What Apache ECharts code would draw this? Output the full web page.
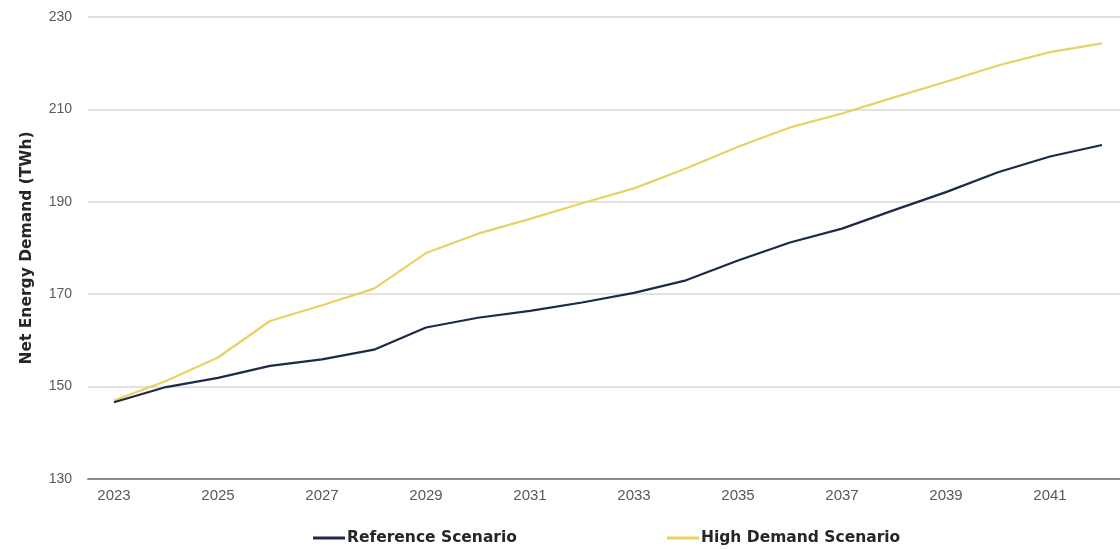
<!DOCTYPE html>
<html>
<head>
<meta charset="utf-8">
<script src="https://cdn.jsdelivr.net/npm/echarts@6/dist/echarts.min.js"></script>
<style>
html,body{margin:0;padding:0;background:#fff;}
#chart{width:1120px;height:549px;}
</style>
</head>
<body>
<div id="chart"></div>
<script>
const years = ['2023','2024','2025','2026','2027','2028','2029','2030','2031','2032','2033','2034','2035','2036','2037','2038','2039','2040','2041','2042'];
const referenceScenario = [146.6, 149.9, 151.9, 154.5, 155.9, 158.0, 162.8, 164.9, 166.4, 168.2, 170.3, 173.0, 177.3, 181.2, 184.2, 188.2, 192.1, 196.4, 199.8, 202.3];
const highDemandScenario = [147.0, 151.2, 156.3, 164.2, 167.6, 171.2, 178.9, 183.1, 186.3, 189.7, 192.9, 197.2, 201.9, 206.1, 209.1, 212.6, 216.0, 219.5, 222.4, 224.3];
const seriesNames = ['Reference Scenario', 'High Demand Scenario'];
const yAxisTitle = 'Net Energy Demand (TWh)';

const chart = echarts.init(document.getElementById('chart'), null, {renderer: 'canvas'});
chart.setOption({
  animation: false,
  backgroundColor: '#ffffff',
  textStyle: {fontFamily: 'DejaVu Sans'},
  grid: {left: 88, top: 17, width: 1040, height: 462, containLabel: false, outerBoundsMode: 'none'},
  legend: {
    bottom: 3,
    left: 313,
    padding: 0,
    itemGap: 150,
    itemWidth: 32,
    itemHeight: 3,
    icon: 'rect',
    textStyle: {fontFamily: 'DejaVu Sans', fontWeight: 'bold', fontSize: 15.5, color: '#262626', padding: [0, 0, 0, -3]},
    data: seriesNames
  },
  xAxis: {
    type: 'category',
    data: years,
    boundaryGap: true,
    axisLine: {show: true, lineStyle: {color: '#8c8c8c', width: 2}},
    axisTick: {show: false},
    axisLabel: {interval: 1, color: '#595959', fontSize: 15, fontFamily: 'Liberation Sans', margin: 9},
    splitLine: {show: false}
  },
  yAxis: {
    type: 'value',
    min: 130,
    max: 230,
    interval: 20,
    name: yAxisTitle,
    nameLocation: 'middle',
    nameGap: 53,
    nameTextStyle: {fontFamily: 'DejaVu Sans', fontWeight: 'bold', fontSize: 15.5, color: '#262626'},
    axisLine: {show: false},
    axisTick: {show: false},
    axisLabel: {color: '#595959', fontSize: 14, fontFamily: 'Liberation Sans', margin: 16},
    splitLine: {lineStyle: {color: '#d9d9d9', width: 1.5}}
  },
  series: [
    {
      name: seriesNames[0],
      type: 'line',
      data: referenceScenario,
      symbol: 'none',
      smooth: false,
      lineStyle: {color: '#1b2a47', width: 2.2},
      itemStyle: {color: '#1b2a47'},
      z: 3
    },
    {
      name: seriesNames[1],
      type: 'line',
      data: highDemandScenario,
      symbol: 'none',
      smooth: false,
      lineStyle: {color: '#e8d264', width: 2.2},
      itemStyle: {color: '#e8d264'},
      z: 2
    }
  ]
});
</script>
</body>
</html>
